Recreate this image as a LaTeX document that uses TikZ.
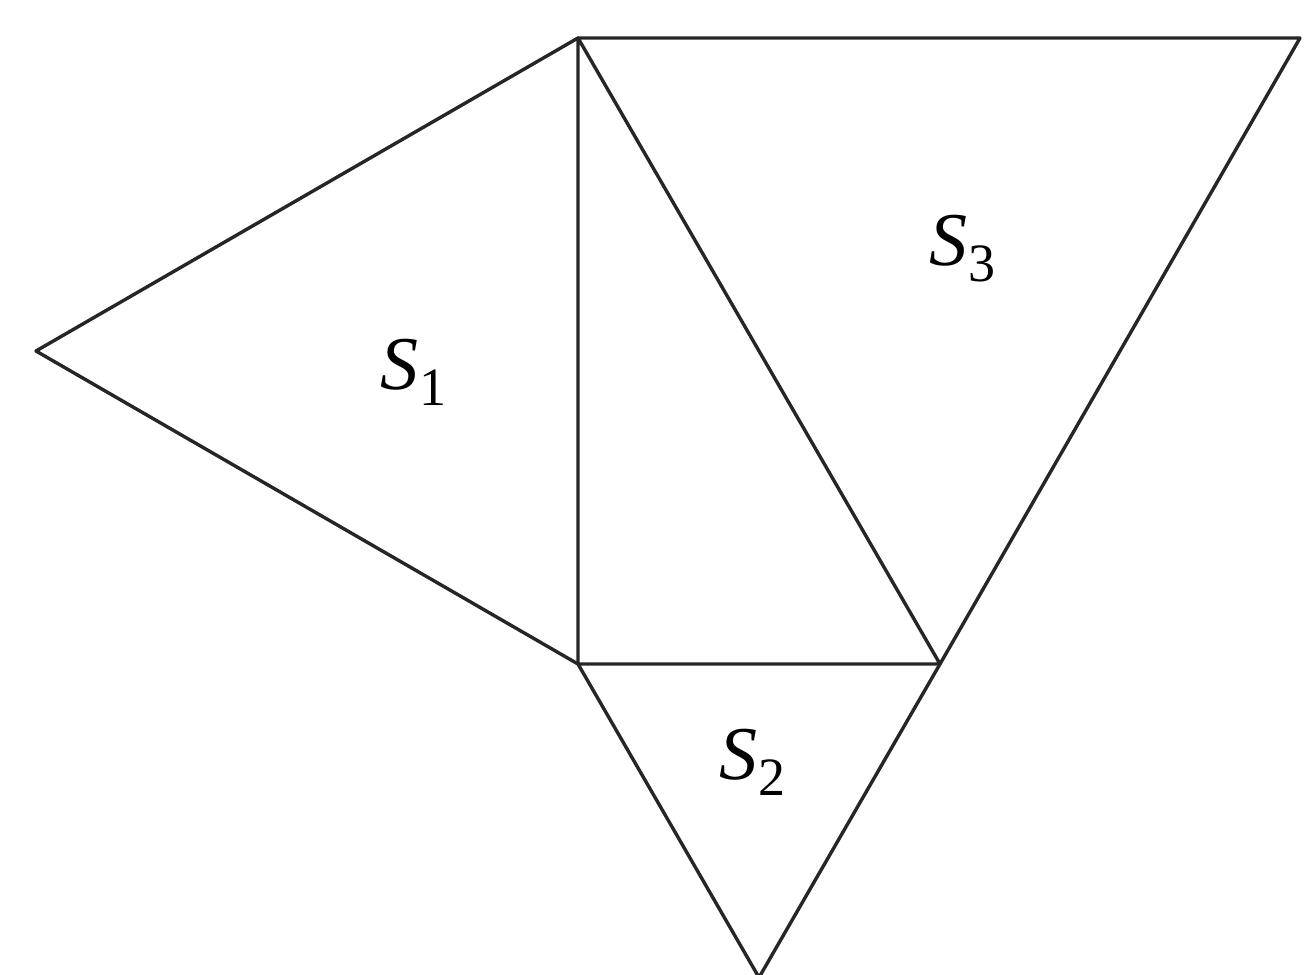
\documentclass[tikz,border=0pt]{standalone}
\usepackage{fontspec}
\setmainfont{Liberation Serif}

% 面积标签：斜体 S 加下标
\newcommand{\arealabel}[1]{\textit{S}\kern1pt\raisebox{-16pt}{\fontsize{54}{54}\selectfont #1}}

\begin{document}
\begin{tikzpicture}[x=1pt, y=-1pt, line width=3.4pt, line cap=round, line join=round]

  %% ════ 顶点 ════
  \coordinate (A)  at (578.0,38.0);    % 直角三角形上顶点
  \coordinate (C)  at (578.0,664.0);   % 直角顶点
  \coordinate (B)  at (940.0,664.0);   % 右下顶点
  \coordinate (P1) at (36.0,351.0);    % 左侧正三角形顶点
  \coordinate (P2) at (759.0,977.5);   % 下方正三角形顶点
  \coordinate (P3) at (1300.0,38.0);   % 斜边上正三角形顶点

  %% ════ 三角形 ════
  \draw[draw=black!85] (A) -- (C) -- (B) -- cycle;
  \draw[draw=black!85] (A) -- (P1) -- (C);
  \draw[draw=black!85] (C) -- (P2) -- (B);
  \draw[draw=black!85] (A) -- (P3) -- (B);

  %% ════ 标签 ════
  \node[anchor=center,inner sep=0pt,font=\fontsize{76}{90}\selectfont] (s1) at (413.0,372.0) {\arealabel{1}};
  \node[anchor=center,inner sep=0pt,font=\fontsize{76}{90}\selectfont] (s2) at (752.0,762.0) {\arealabel{2}};
  \node[anchor=center,inner sep=0pt,font=\fontsize{76}{90}\selectfont] (s3) at (962.0,249.0) {\arealabel{3}};

  % 钉死画布
  \pgfresetboundingbox
  \path[use as bounding box] (0,0) rectangle (1305,974);
\end{tikzpicture}
\end{document}
